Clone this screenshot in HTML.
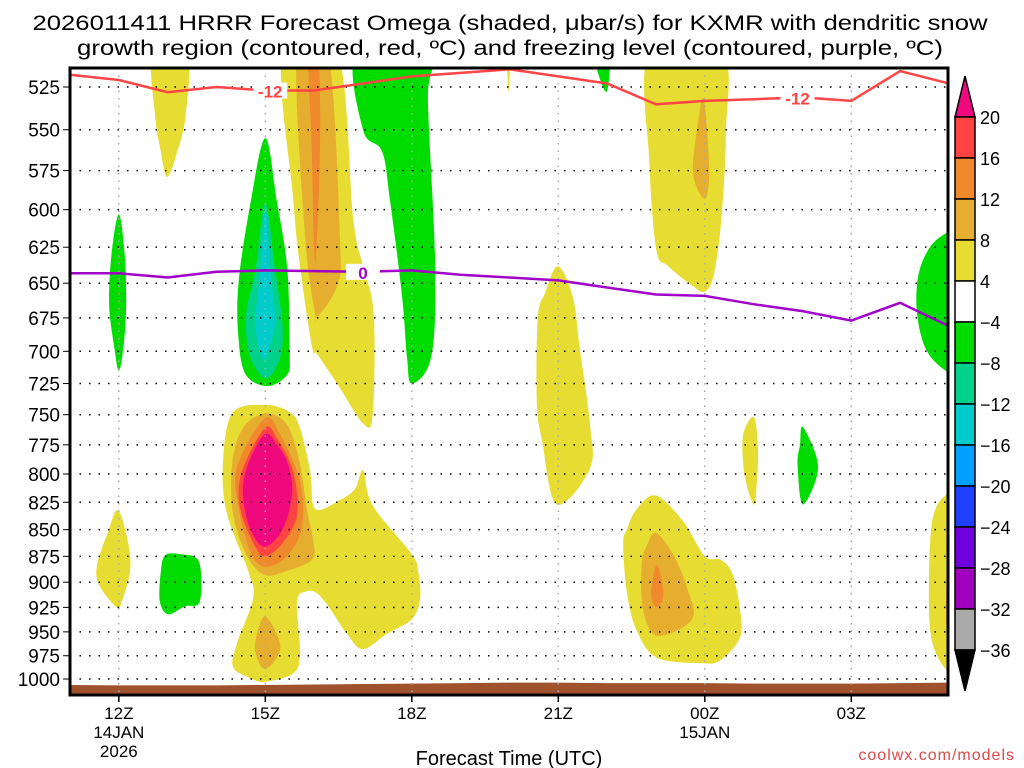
<!DOCTYPE html>
<html><head><meta charset="utf-8"><style>
html,body{margin:0;padding:0;background:#fff;}
svg{display:block;font-family:"Liberation Sans",sans-serif;}
</style></head><body>
<svg id="chart" width="1024" height="768" viewBox="0 0 1024 768" xmlns="http://www.w3.org/2000/svg">
<defs><clipPath id="plotclip"><rect x="70" y="68" width="878" height="627"/></clipPath></defs>
<text x="510" y="30" text-anchor="middle" font-size="21" textLength="955" lengthAdjust="spacingAndGlyphs">2026011411 HRRR Forecast Omega (shaded, μbar/s) for KXMR with dendritic snow</text>
<text x="510" y="55" text-anchor="middle" font-size="21" textLength="866" lengthAdjust="spacingAndGlyphs">growth region (contoured, red, ºC) and freezing level (contoured, purple, ºC)</text>
<rect x="70" y="68" width="878" height="627" fill="#fff"/>
<g id="fills" clip-path="url(#plotclip)"></g>
<g id="grid"></g>
<g id="lines" clip-path="url(#plotclip)"></g>
<rect x="70" y="68" width="878" height="627" fill="none" stroke="#000" stroke-width="3"/>
<g id="axes"></g>
<g id="cbar"></g>
<text x="509" y="765" text-anchor="middle" font-size="20">Forecast Time (UTC)</text>
<text x="1015" y="760" text-anchor="end" font-size="16" fill="#e04848" letter-spacing="1">coolwx.com/models</text>
</svg>
<script>
const NS="http://www.w3.org/2000/svg";
// ---- data ----
const pressureTicks=[525,550,575,600,625,650,675,700,725,750,775,800,825,850,875,900,925,950,975,1000];
const timeTickHours=[12,15,18,21,24,27];
const timeTickLabels=["12Z","15Z","18Z","21Z","00Z","03Z"];
const timeTickSub=[["14JAN","2026"],[],[],[],["15JAN"],[]];
const contourHours=[11,12,13,14,15,16,17,18,19,20,21,22,23,24,25,26,27,28,29];
const dgzMinus12=[518,521,528,525,527,527,523,519,517,515,519,523,535,533,532,531,533,516,523];
const freezing0=[643,643,646,642,641,641.5,642,641,644,646,648,653,658,659,665,670,677,664,681];
const surfacePressure=[1006.5,1007,1007,1007,1006.5,1006,1005.5,1005,1004.5,1004,1004,1004.5,1004.5,1004.5,1005,1005,1005,1004.5,1004];
const cbarLevels=[20,16,12,8,4,-4,-8,-12,-16,-20,-24,-28,-32,-36];
const cbarColors=["#ff4242","#f0882c","#e6ae2f","#e6dc32","#ffffff","#00dc00","#00d28c","#00cccc","#00a0ff","#2040ff","#7000dd","#a000c0","#aaaaaa"];
const YEL="#e6dc32",GLD="#e6ae2f",ORG="#f0882c",RED="#ff4242",MAG="#f0087f",GRN="#00dc00",TEA="#00d28c",CYN="#00cccc";
// omega contour regions: [color, [[hour, hPa], ...]]
const regions=[
 [YEL,[[12.7,505],[13.4,505],[13.37,541],[13.2,563],[12.99,579],[12.86,563],[12.74,541]]],
 [GRN,[[12,603],[12.12,630],[12.15,665],[12.1,695],[12,715],[11.9,695],[11.8,665],[11.85,630]]],
 [GRN,[[15,555],[15.24,595],[15.45,640],[15.5,700],[15.45,718],[15.04,727],[14.6,718],[14.45,690],[14.45,650],[14.7,595]]],
 [TEA,[[15,596],[15.2,640],[15.35,680],[15.3,705],[15.02,721],[14.7,705],[14.6,675],[14.8,640]]],
 [CYN,[[15,600],[15.1,640],[15.2,675],[15.1,695],[14.98,706],[14.85,695],[14.8,675],[14.9,640]]],
 [YEL,[[15.36,505],[15.57,593],[15.71,638],[15.96,697],[16.06,702],[16.47,725],[17.0,757],[17.2,750],[17.22,672],[17.0,638],[16.8,606],[16.47,505]]],
 [GLD,[[15.65,505],[15.82,620],[16.02,672],[16.05,675],[16.47,652],[16.53,620],[16.28,505]]],
 [ORG,[[15.88,505],[16.08,505],[16.12,560],[16.02,636],[15.95,560]]],
 [GRN,[[16.88,505],[17.0,550],[17.39,563],[17.55,593],[17.8,659],[17.9,704],[18.0,725],[18.4,704],[18.48,638],[18.33,532],[18.41,505]]],
 [YEL,[[14.99,742],[14.32,749],[14.13,793],[14.22,836],[14.65,889],[14.75,916],[14.42,962],[14.34,987],[14.69,999],[14.99,1003],[15.57,994],[15.71,973],[15.65,919],[15.85,909],[16.06,911],[16.32,926],[16.67,952],[17.0,968],[17.49,952],[18.0,937],[18.17,916],[18.13,890],[18.0,873],[17.2,828],[17.0,797],[16.84,813],[16.53,823],[16.02,831],[15.92,798],[15.71,761],[15.5,748]]],
 [GLD,[[14.99,749],[14.54,761],[14.32,791],[14.34,836],[14.63,875],[14.99,893],[15.44,889],[15.96,878],[15.98,860],[15.85,831],[15.71,791],[15.44,758]]],
 [ORG,[[14.99,753],[14.44,791],[14.42,822],[14.69,870],[14.99,885],[15.44,875],[15.75,848],[15.71,806],[15.3,766]]],
 [RED,[[14.99,761],[14.52,798],[14.48,829],[14.75,862],[14.99,875],[15.36,862],[15.65,836],[15.57,798],[15.24,770]]],
 [MAG,[[14.99,766],[14.65,791],[14.54,817],[14.69,849],[14.99,866],[15.36,849],[15.55,817],[15.46,791],[15.24,775]]],
 [GLD,[[14.99,934],[14.79,962],[14.85,980],[14.99,989],[15.2,980],[15.3,962]]],
 [GRN,[[12.95,874],[13.26,873],[13.64,880],[13.66,919],[13.35,924],[13.01,932],[12.84,919],[12.86,890]]],
 [YEL,[[11.98,832],[12.19,862],[12.23,889],[12.06,919],[11.96,925],[11.61,904],[11.55,884],[11.78,852]]],
 [YEL,[[22.87,505],[22.87,572],[23.01,627],[23.25,638],[23.72,651],[24.0,656],[24.19,643],[24.34,606],[24.43,553],[24.35,505]]],
 [GLD,[[23.98,532],[24.09,575],[24.0,593],[23.76,577],[23.85,548]]],
 [GRN,[[21.71,505],[22.04,505],[21.98,528]]],
 [YEL,[[19.95,505],[20.02,505],[19.98,528]]],
 [YEL,[[20.99,638],[21.3,660],[21.44,698],[21.65,758],[21.65,795],[20.97,827],[20.67,772],[20.56,740],[20.58,675],[20.73,657]]],
 [YEL,[[25.0,752],[25.09,778],[25.06,812],[25.0,827],[24.82,802],[24.78,768]]],
 [GRN,[[26.01,760],[26.32,794],[26.01,827],[25.9,792],[25.95,775]]],
 [YEL,[[23.0,819],[23.55,842],[24.0,875],[24.31,878],[24.56,891],[24.72,926],[24.72,956],[24.31,980],[23.94,983],[23.02,977],[22.61,949],[22.41,912],[22.33,864],[22.41,849],[22.61,831]]],
 [GLD,[[23.0,853],[23.35,873],[23.64,906],[23.74,937],[23.02,954],[22.73,926],[22.71,882],[22.82,864]]],
 [ORG,[[23.02,883],[23.15,912],[23.02,925],[22.9,912]]],
 [YEL,[[28.98,817],[28.67,839],[28.59,902],[28.65,959],[28.98,992],[29.3,992],[29.3,817]]],
 [GLD,[[29.0,895],[28.94,925],[29.0,955],[29.3,925]]],
 [GRN,[[28.98,615],[28.61,625],[28.37,645],[28.35,673],[28.55,700],[28.98,716],[29.3,716],[29.3,615]]]
];
// ---- axis functions ----
const X0=70,PXH=48.83,Y0=87,YS=592/Math.log(1000/525);
const xs=h=>X0+(h-11)*PXH;
const ys=p=>Y0+Math.log(p/525)*YS;
function mk(tag,attrs,parent){const e=document.createElementNS(NS,tag);for(const k in attrs)e.setAttribute(k,attrs[k]);parent.appendChild(e);return e;}
function smooth(pts){const n=pts.length;let d=`M${pts[0][0]},${pts[0][1]}`;
 for(let i=0;i<n;i++){const p0=pts[(i-1+n)%n],p1=pts[i],p2=pts[(i+1)%n],p3=pts[(i+2)%n];
  const c1=[p1[0]+(p2[0]-p0[0])/6,p1[1]+(p2[1]-p0[1])/6],c2=[p2[0]-(p3[0]-p1[0])/6,p2[1]-(p3[1]-p1[1])/6];
  d+=`C${c1[0].toFixed(1)},${c1[1].toFixed(1)} ${c2[0].toFixed(1)},${c2[1].toFixed(1)} ${p2[0].toFixed(1)},${p2[1].toFixed(1)}`;}
 return d+"Z";}
const fills=document.getElementById('fills');
regions.forEach((r,i)=>{
 const pts=r[1].map(q=>[xs(q[0]),ys(q[1])]);
 const e=mk('path',{d:smooth(pts),fill:r[0]},fills);
 
 
});
// ground
let gd=`M${xs(10)},${ys(1020)}`;
contourHours.forEach((h,i)=>{gd+=`L${xs(h)},${ys(surfacePressure[i])}`;});
gd+=`L${xs(30)},${ys(surfacePressure[surfacePressure.length-1])}L${xs(30)},${ys(1020)}Z`;
const g=mk('path',{d:gd,fill:"#a0522d"},fills);


// grid
const grid=document.getElementById('grid');
pressureTicks.forEach(p=>{const l=mk('line',{x1:70,x2:948,y1:ys(p),y2:ys(p),stroke:"#000","stroke-width":1.5,"stroke-dasharray":"1.5 8"},grid);
 
 });
timeTickHours.forEach(h=>{const l=mk('line',{x1:xs(h),x2:xs(h),y1:68,y2:695,stroke:"#aaa","stroke-width":1.5,"stroke-dasharray":"1.5 6"},grid);
 
 });
// contour lines
const lines=document.getElementById('lines');
function linePath(arr){return contourHours.map((h,i)=>(i?'L':'M')+xs(h).toFixed(1)+','+ys(arr[i]).toFixed(1)).join('');}
const rl=mk('path',{d:linePath(dgzMinus12),fill:"none",stroke:"#ff4545","stroke-width":2.5},lines);


const pl=mk('path',{d:linePath(freezing0),fill:"none",stroke:"#a000c8","stroke-width":2.5},lines);


function lbl(h,arr,txt,col,name){const i=contourHours.indexOf(Math.floor(h));const f=h-Math.floor(h);
 const p=arr[i]+(arr[i+1]-arr[i])*f;const x=xs(h),y=ys(p);
 mk('rect',{x:x-17,y:y-8,width:34,height:16,fill:"#fff"},lines);
 const t=mk('text',{x:x,y:y+7,"text-anchor":"middle","font-size":17,"font-weight":"bold",fill:col},lines);t.textContent=txt;
 
 }
lbl(15.1,dgzMinus12,"-12","#ff4545","dgz-label-1");
lbl(25.9,dgzMinus12,"-12","#ff4545","dgz-label-2");
lbl(17.0,freezing0,"0","#a000c8","freezing-label");
// axes
const axes=document.getElementById('axes');
pressureTicks.forEach(p=>{const t=mk('text',{x:60,y:ys(p)+7,"text-anchor":"end","font-size":19},axes);t.textContent=p;
 
 
 mk('line',{x1:63,x2:70,y1:ys(p),y2:ys(p),stroke:"#000","stroke-width":1},axes);});
timeTickHours.forEach((h,i)=>{const x=xs(h);
 mk('line',{x1:x,x2:x,y1:695,y2:702,stroke:"#000","stroke-width":1.5},axes);
 const t=mk('text',{x:x,y:719,"text-anchor":"middle","font-size":17},axes);t.textContent=timeTickLabels[i];
 
 
 timeTickSub[i].forEach((s,j)=>{const u=mk('text',{x:x,y:738+j*19,"text-anchor":"middle","font-size":17},axes);u.textContent=s;
  
  });});
// colorbar
const cb=document.getElementById('cbar');
const CT=117,CS=41,CX=955,CW=20;
const up=mk('path',{d:`M${CX},${CT}L${CX+CW/2},76L${CX+CW},${CT}Z`,fill:MAG,stroke:"#000","stroke-width":1.5},cb);


cbarColors.forEach((c,i)=>{const r=mk('rect',{x:CX,y:CT+i*CS,width:CW,height:CS,fill:c,stroke:"#000","stroke-width":1.5},cb);
 
 });
const bot=CT+cbarColors.length*CS;
const dn=mk('path',{d:`M${CX},${bot}L${CX+CW/2},691L${CX+CW},${bot}Z`,fill:"#000",stroke:"#000","stroke-width":1.5},cb);


cbarLevels.forEach((v,i)=>{const t=mk('text',{x:980,y:CT+i*CS+7,"font-size":18},cb);t.textContent=v<0?'−'+(-v):v;
 
 });
</script>
</body></html>
